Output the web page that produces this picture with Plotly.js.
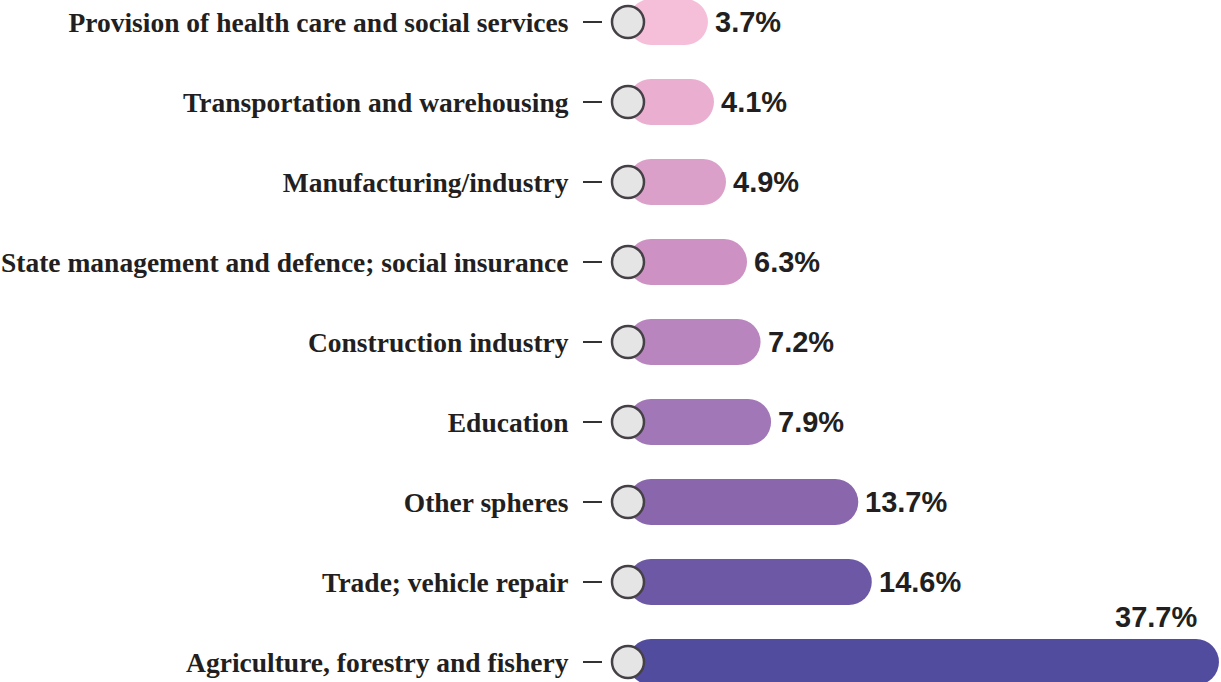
<!DOCTYPE html>
<html>
<head>
<meta charset="utf-8">
<script src="https://cdn.plot.ly/plotly-3.0.1.min.js"></script>
<style>html,body{margin:0;padding:0;background:#fff;}#chart{width:1221px;height:682px;}</style>
</head>
<body>
<div id="chart"></div>
<script>
// Categories from bottom to top
const categories = [
  "Agriculture, forestry and fishery",
  "Trade; vehicle repair",
  "Other spheres",
  "Education",
  "Construction industry",
  "State management and defence; social insurance",
  "Manufacturing/industry",
  "Transportation and warehousing",
  "Provision of health care and social services"
];
const values = [37.7, 14.6, 13.7, 7.9, 7.2, 6.3, 4.9, 4.1, 3.7];
const barColors = ["#524c9f", "#6c58a4", "#8a66ad", "#a277b8", "#b985be", "#cd92c3", "#dba0c9", "#e9aed0", "#f5bed9"];
const valueLabels = values.map(v => v.toFixed(1) + "%");

// visual constants
const CAP = 1.62;          // rounded cap length beyond the value (data units)
const XMIN = -1.663, XMAX = 39.455;

const barTrace = {
  type: "bar",
  orientation: "h",
  y: categories,
  x: values.map(v => v + CAP),
  base: 0,
  marker: {color: barColors, line: {width: 0}},
  hoverinfo: "skip",
  showlegend: false
};
const dotTrace = {
  type: "scatter",
  mode: "markers",
  y: categories,
  x: categories.map(() => 0),
  marker: {size: 32, color: "#e5e5e5", line: {color: "#454045", width: 2.5}},
  cliponaxis: false,
  hoverinfo: "skip",
  showlegend: false
};

const annotations = values.map((v, i) => {
  const end = v + CAP;
  const above = end > XMAX - 3;
  return {
    x: end, y: categories[i], xref: "x", yref: "y",
    text: valueLabels[i], showarrow: false,
    xanchor: above ? "right" : "left",
    yanchor: "middle",
    xshift: above ? -20 : 5,
    yshift: above ? 45 : 0,
    font: {family: "Liberation Sans, Arial, sans-serif", size: 29, color: "#231f20", weight: "bold"}
  };
});

const layout = {
  width: 1221, height: 682,
  margin: {l: 603, r: 0, t: 0, b: 0, pad: 0},
  paper_bgcolor: "#ffffff", plot_bgcolor: "#ffffff",
  bargap: 0.425,
  barcornerradius: "50%",
  xaxis: {range: [XMIN, XMAX], visible: false, fixedrange: true},
  yaxis: {
    type: "category", categoryorder: "array", categoryarray: categories,
    range: [-0.25, 8.275],
    showgrid: false, zeroline: false, showline: false,
    ticks: "outside", ticklen: 19, tickwidth: 2, tickcolor: "#333333",
    ticklabelstandoff: 9,
    tickfont: {family: "Liberation Serif, Times New Roman, serif", size: 27.5, color: "#231f20", weight: "bold"},
    fixedrange: true
  },
  annotations: annotations
};

Plotly.newPlot("chart", [barTrace, dotTrace], layout, {displayModeBar: false, staticPlot: true});
</script>
</body>
</html>
